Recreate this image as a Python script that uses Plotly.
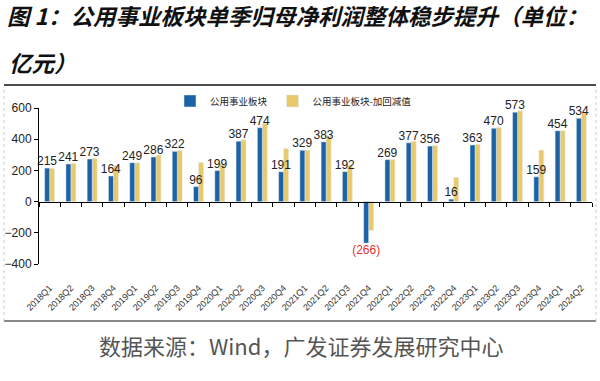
import plotly.graph_objects as go

quarters = ["2018Q1", "2018Q2", "2018Q3", "2018Q4", "2019Q1", "2019Q2", "2019Q3", "2019Q4",
            "2020Q1", "2020Q2", "2020Q3", "2020Q4", "2021Q1", "2021Q2", "2021Q3", "2021Q4",
            "2022Q1", "2022Q2", "2022Q3", "2022Q4", "2023Q1", "2023Q2", "2023Q3", "2023Q4",
            "2024Q1", "2024Q2"]
profit = [215, 241, 273, 164, 249, 286, 322, 96, 199, 387, 474, 191, 329, 383, 192, -266,
          269, 377, 356, 16, 363, 470, 573, 159, 454, 534]
profit_adj = [213, 245, 277, 230, 249, 298, 327, 250, 242, 395, 502, 340, 330, 422, 233, -185,
              270, 386, 360, 155, 367, 476, 582, 330, 454, 568]

series_names = ["公用事业板块", "公用事业板块-加回减值"]
title_line1 = "图 1：公用事业板块单季归母净利润整体稳步提升（单位："
title_line2 = "亿元）"
source_text = "数据来源：Wind，广发证券发展研究中心"

BLUE = "#1B63A6"
YELLOW = "#E8CA6C"

labels = [str(v) if v >= 0 else "(%d)" % (-v) for v in profit]
label_colors = ["#222222" if v >= 0 else "#E8312F" for v in profit]

CJK = "Noto Sans CJK SC"
BW = 0.235  # bar width in category units

fig = go.Figure()
# yellow first so the blue trace's value labels are drawn on top
fig.add_trace(go.Bar(
    x=quarters, y=profit_adj, name=series_names[1], marker_color=YELLOW,
    offset=0, width=BW, legendrank=2,
))
fig.add_trace(go.Bar(
    x=quarters, y=profit, name=series_names[0], marker_color=BLUE,
    offset=-BW, width=BW, legendrank=1,
    text=labels, textposition="outside", constraintext="none", cliponaxis=False,
    textfont=dict(family="Arial", size=12, color=label_colors),
))
# invisible helper trace for the zero-line axis (ticks at y = 0)
fig.add_trace(go.Scatter(
    x=quarters, y=profit, xaxis="x2", mode="markers",
    marker=dict(opacity=0), showlegend=False, hoverinfo="skip",
))

fig.update_layout(
    width=600, height=381,
    margin=dict(l=39, r=8, t=108, b=117, autoexpand=False),
    paper_bgcolor="white", plot_bgcolor="white",
    barmode="overlay",
    showlegend=True,
    legend=dict(orientation="h", x=(170-39)/553, xanchor="left", y=1.045, yanchor="middle",
                font=dict(family=CJK, size=9.5, color="#222"), bgcolor="rgba(0,0,0,0)",
                itemwidth=30, tracegroupgap=0),
    title=dict(text=title_line1, xref="container", x=7/600, xanchor="left",
               yref="container", y=1-17/381, yanchor="middle", pad=dict(l=0, r=0, t=0, b=0),
               font=dict(family=CJK, size=22.5, color="#111", weight="bold", style="italic")),
    xaxis=dict(type="category", categoryorder="array", categoryarray=quarters,
               range=[-0.5, 25.5], showline=False, ticks="", showgrid=False, automargin=False,
               tickangle=-45, tickfont=dict(family="Arial", size=9, color="#333"),
               ticklabelstandoff=16),
    xaxis2=dict(type="category", categoryorder="array", categoryarray=quarters,
                overlaying="x", anchor="free", position=0.4, range=[-0.5, 25.5],
                showticklabels=False, ticks="outside", tickson="boundaries", ticklen=4,
                tickcolor="#000", showline=True, linecolor="#000", linewidth=1, showgrid=False,
                automargin=False),
    yaxis=dict(range=[-400, 600], dtick=200, showgrid=False, zeroline=False, automargin=False,
               showline=True, linecolor="#000", linewidth=1, ticks="outside", ticklen=4,
               tickcolor="#000", tickfont=dict(family="Arial", size=12, color="#222")),
    annotations=[
        dict(text=title_line2, xref="paper", yref="paper", x=(7-39)/553, y=(264-62)/156,
             xanchor="left", yanchor="middle", showarrow=False,
             font=dict(family=CJK, size=22.5, color="#111", weight="bold", style="italic")),
        dict(text=source_text, xref="paper", yref="paper", x=(301-39)/553, y=(264-345)/156,
             xanchor="center", yanchor="middle", showarrow=False,
             font=dict(family=CJK, size=22, color="#555")),
    ],
    shapes=[
        dict(type="line", xref="paper", yref="paper", x0=(4-39)/553, x1=(596-39)/553,
             y0=(264-85)/156, y1=(264-85)/156, line=dict(color="#111", width=1.5)),
        dict(type="line", xref="paper", yref="paper", x0=(4-39)/553, x1=(596-39)/553,
             y0=(264-321)/156, y1=(264-321)/156, line=dict(color="#888", width=2)),
        dict(type="line", xref="paper", yref="paper", x0=(4-39)/553, x1=(4-39)/553,
             y0=(264-321)/156, y1=(264-87)/156, line=dict(color="#ccc", width=1, dash="dot")),
        dict(type="line", xref="paper", yref="paper", x0=(596-39)/553, x1=(596-39)/553,
             y0=(264-321)/156, y1=(264-87)/156, line=dict(color="#ccc", width=1, dash="dot")),
    ],
)

fig.write_html("out.html", config={"displayModeBar": False},
               post_script="document.body.style.margin='0';document.body.style.overflow='hidden';")
